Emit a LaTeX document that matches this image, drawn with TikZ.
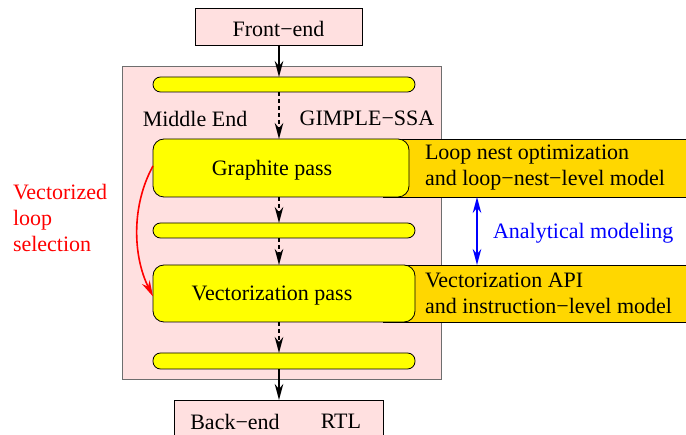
\documentclass[tikz,border=0pt]{standalone}
\usepackage{fontspec}
\setmainfont{Liberation Serif}
\usetikzlibrary{arrows.meta}
\definecolor{pinkbg}{RGB}{255,224,224}
\definecolor{goldbox}{RGB}{255,215,0}
\definecolor{yel}{RGB}{255,255,0}
\definecolor{bordergray}{RGB}{110,110,110}
\begin{document}
\begin{tikzpicture}[x=1pt,y=-1pt,
  every node/.style={inner sep=0pt,outer sep=0pt},
  txt/.style={font=\fontsize{22}{26}\selectfont},
  pinkbox/.style={draw=black,fill=pinkbg,line width=0.8pt},
  barbox/.style={draw=black,fill=yel,line width=0.8pt,rounded corners=7.5pt,minimum width=262pt,minimum height=15pt},
  passbox/.style={draw=black,fill=yel,line width=0.8pt,rounded corners=11pt},
  goldrect/.style={draw=black,fill=goldbox,line width=0.8pt,minimum width=317pt,minimum height=58pt},
  arr/.style={line width=1.6pt,-{Stealth[length=16pt,width=8.5pt,inset=5pt]}},
  darr/.style={arr,dash pattern=on 4pt off 3pt},
]
\clip (0,0) rectangle (686,435);
\fill[white] (0,0) rectangle (686,435);
% main boxes
\node[pinkbox,minimum width=167pt,minimum height=37pt] (fe) at (278.5,26.5) {};
\node[txt] (fet) at (278.5,28.5) {Front−end};
\node[draw=bordergray,fill=pinkbg,line width=0.8pt,minimum width=319pt,minimum height=313pt] (me) at (281.5,222.5) {};
\node[barbox] (bar1) at (284,84.5) {};
\node[txt] (mel) at (195,118.5) {Middle End};
\node[txt] (gim) at (367,118.5) {GIMPLE−SSA};
\node[goldrect] (lno) at (541.5,168) {};
\node[passbox,minimum width=256pt,minimum height=58pt] (gp) at (281,168) {};
\node[txt] (gpt) at (272,170.5) {Graphite pass};
\node[txt,anchor=west,align=left] (lnot) at (425,167.5) {Loop nest optimization\\and loop−nest−level model};
\node[barbox] (bar2) at (284,230.5) {};
\node[goldrect,minimum height=57pt] (vao) at (541.5,293.5) {};
\node[passbox,minimum width=262pt,minimum height=57pt] (vp) at (284,293.5) {};
\node[txt] (vpt) at (272,295.5) {Vectorization pass};
\node[txt,anchor=west,align=left] (vaot) at (425,293.5) {Vectorization API\\and instruction−level model};
\node[barbox,minimum height=16pt] (bar3) at (284,361) {};
\node[pinkbox,minimum width=209pt,minimum height=50pt] (be) at (278.5,425) {};
\node[txt] (bet) at (235,421.5) {Back−end};
\node[txt] (rtl) at (341,421.5) {RTL};
% flow arrows
\coordinate (cx) at (279,0);
\draw[arr] (fe.south -| cx) -- (bar1.north -| cx);
\draw[darr] (bar1.south -| cx) -- (gp.north -| cx);
\draw[darr] (gp.south -| cx) -- (bar2.north -| cx);
\draw[darr] (bar2.south -| cx) -- (vp.north -| cx);
\draw[darr] (vp.south -| cx) -- (bar3.north -| cx);
\draw[arr] (bar3.south -| cx) -- (be.north -| cx);
% analytical modeling
\coordinate (bx) at (477,0);
\draw[blue,line width=1.5pt,{Stealth[length=16pt,width=8.5pt,inset=5pt]}-{Stealth[length=16pt,width=8.5pt,inset=5pt]}] (lno.south -| bx) -- (vao.north -| bx);
\node[txt,blue,anchor=west] (am) at (493,233.5) {Analytical modeling};
% vectorized loop selection
\draw[red,line width=1.6pt,-{Stealth[length=16pt,width=8.5pt,inset=5pt]}] ([yshift=2pt]gp.west) .. controls +(-22,40) and +(-20,-40) .. ([yshift=-3pt]vp.west);
\node[txt,red,anchor=west,align=left] (vls) at (13,217.5) {Vectorized\\loop\\selection};
\end{tikzpicture}
\end{document}
